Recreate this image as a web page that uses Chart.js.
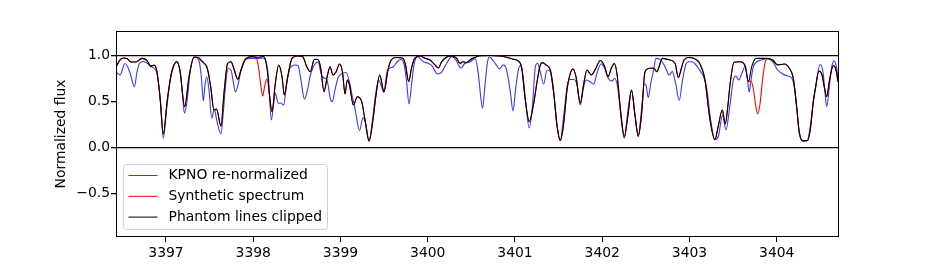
<!DOCTYPE html>
<html><head><meta charset="utf-8">
<script src="https://cdn.jsdelivr.net/npm/chart.js@4/dist/chart.umd.min.js"></script>
<style>html,body{margin:0;padding:0;background:#fff}#c{display:block}</style>
</head><body>
<canvas id="c" width="932" height="266"></canvas>
<script>
// ---- data ----
const seriesLabels = ['KPNO re-normalized', 'Synthetic spectrum', 'Phantom lines clipped'];
const xTicks = [3397, 3398, 3399, 3400, 3401, 3402, 3403, 3404];
const yTicks = [-0.5, 0, 0.5, 1];
const xRange = [3396.427, 3404.702];
const yRange = [-0.975, 1.264];
const yTitle = 'Normalized flux';

const kpnoWave = [3396.427,3396.473,3396.530,3396.576,3396.605,3396.637,3396.668,3396.696,3396.740,3396.786,
3396.825,3396.854,3396.900,3396.939,3396.969,3397.006,3397.040,3397.069,3397.123,3397.166,
3397.189,3397.212,3397.246,3397.275,3397.324,3397.378,3397.405,3397.428,3397.447,3397.466,
3397.493,3397.524,3397.554,3397.581,3397.630,3397.659,3397.676,3397.711,3397.745,3397.768,
3397.797,3397.825,3397.860,3397.900,3397.963,3398.051,3398.108,3398.140,3398.172,3398.207,
3398.232,3398.253,3398.287,3398.318,3398.349,3398.381,3398.421,3398.479,3398.513,3398.547,
3398.587,3398.622,3398.650,3398.688,3398.742,3398.782,3398.819,3398.845,3398.885,3398.906,
3398.937,3398.971,3399.009,3399.063,3399.103,3399.132,3399.166,3399.218,3399.258,3399.292,
3399.327,3399.367,3399.401,3399.438,3399.464,3399.496,3399.533,3399.562,3399.602,3399.651,
3399.693,3399.728,3399.756,3399.785,3399.814,3399.842,3399.883,3399.949,3400.006,3400.049,
3400.083,3400.109,3400.160,3400.217,3400.274,3400.324,3400.352,3400.381,3400.427,3400.484,
3400.542,3400.579,3400.605,3400.628,3400.656,3400.685,3400.708,3400.759,3400.794,3400.820,
3400.866,3400.897,3400.926,3400.951,3400.977,3401.006,3401.034,3401.057,3401.086,3401.120,
3401.164,3401.201,3401.233,3401.260,3401.290,3401.329,3401.367,3401.405,3401.441,3401.481,
3401.519,3401.556,3401.604,3401.634,3401.673,3401.711,3401.748,3401.785,3401.814,3401.863,
3401.902,3401.940,3401.986,3402.026,3402.074,3402.112,3402.143,3402.181,3402.218,3402.252,
3402.295,3402.335,3402.375,3402.412,3402.450,3402.484,3402.501,3402.527,3402.559,3402.585,
3402.616,3402.662,3402.696,3402.731,3402.765,3402.803,3402.840,3402.882,3402.920,3402.960,
3402.989,3403.034,3403.074,3403.128,3403.166,3403.201,3403.235,3403.292,3403.332,3403.378,
3403.418,3403.464,3403.502,3403.533,3403.564,3403.602,3403.640,3403.665,3403.684,3403.705,
3403.731,3403.762,3403.819,3403.896,3403.953,3404.011,3404.068,3404.125,3404.171,3404.203,
3404.232,3404.261,3404.307,3404.350,3404.387,3404.421,3404.453,3404.496,3404.530,3404.553,
3404.572,3404.605,3404.628,3404.654,3404.679,3404.702];
const kpnoFlux = [0.822,0.786,0.911,0.840,0.753,0.655,0.818,0.913,0.933,0.913,
0.876,0.865,0.786,0.478,0.098,0.405,0.677,0.818,0.933,0.786,
0.568,0.370,0.536,0.808,0.981,0.941,0.767,0.503,0.677,0.764,
0.623,0.318,0.416,0.297,0.145,0.405,0.601,0.857,0.840,0.731,
0.601,0.677,0.840,0.941,0.965,0.965,0.971,0.949,0.786,0.297,
0.460,0.587,0.478,0.481,0.460,0.677,0.859,0.895,0.889,0.731,
0.522,0.623,0.764,0.873,0.927,0.786,0.750,0.731,0.525,0.496,
0.623,0.753,0.797,0.813,0.710,0.568,0.424,0.182,0.324,0.242,
0.068,0.297,0.568,0.731,0.677,0.596,0.818,0.859,0.873,0.930,
0.954,0.905,0.731,0.471,0.677,0.895,0.985,0.930,0.913,0.884,
0.829,0.797,0.818,0.913,0.985,0.949,0.895,0.859,0.913,0.927,
0.967,0.804,0.568,0.424,0.677,0.927,0.981,0.930,0.884,0.851,
0.895,0.862,0.731,0.568,0.394,0.623,0.818,0.889,0.818,0.514,
0.210,0.460,0.873,0.913,0.818,0.688,0.840,0.822,0.623,0.242,
0.071,0.329,0.696,0.737,0.737,0.677,0.460,0.645,0.731,0.710,
0.688,0.808,0.905,0.862,0.742,0.721,0.750,0.623,0.297,0.098,
0.405,0.623,0.351,0.117,0.405,0.688,0.677,0.541,0.710,0.822,
0.967,0.954,0.916,0.851,0.786,0.822,0.699,0.509,0.731,0.905,
0.930,0.930,0.895,0.822,0.759,0.623,0.351,0.085,0.123,0.351,
0.188,0.460,0.731,0.775,0.731,0.808,0.884,0.731,0.601,0.731,
0.873,0.922,0.949,0.967,0.930,0.840,0.797,0.775,0.753,0.645,
0.405,0.134,0.066,0.074,0.242,0.514,0.696,0.900,0.818,0.601,
0.441,0.677,0.862,0.940,0.895,0.753];

const synthWave = [3396.427,3396.473,3396.513,3396.553,3396.599,3396.656,3396.725,3396.782,3396.825,3396.862,
3396.893,3396.931,3396.969,3397.015,3397.061,3397.123,3397.160,3397.214,3397.264,3397.321,
3397.359,3397.416,3397.473,3397.512,3397.550,3397.579,3397.630,3397.668,3397.707,3397.745,
3397.783,3397.822,3397.860,3397.917,3397.994,3398.032,3398.062,3398.085,3398.108,3398.131,3398.158,
3398.186,3398.215,3398.253,3398.292,3398.330,3398.356,3398.395,3398.444,3398.509,3398.567,
3398.613,3398.654,3398.700,3398.742,3398.773,3398.811,3398.849,3398.880,3398.914,3398.948,
3398.989,3399.023,3399.052,3399.078,3399.103,3399.147,3399.193,3399.243,3399.281,3399.327,
3399.372,3399.407,3399.449,3399.499,3399.544,3399.582,3399.636,3399.716,3399.745,3399.782,
3399.814,3399.850,3399.911,3399.968,3400.026,3400.083,3400.121,3400.160,3400.217,3400.274,
3400.332,3400.370,3400.407,3400.446,3400.484,3400.542,3400.599,3400.713,3400.828,3400.905,
3400.981,3401.038,3401.077,3401.118,3401.164,3401.214,3401.256,3401.290,3401.317,3401.355,
3401.405,3401.444,3401.481,3401.519,3401.556,3401.596,3401.634,3401.665,3401.699,3401.748,
3401.785,3401.825,3401.874,3401.917,3401.978,3402.028,3402.066,3402.104,3402.138,3402.169,
3402.207,3402.253,3402.295,3402.335,3402.375,3402.413,3402.450,3402.490,3402.547,3402.593,
3402.624,3402.691,3402.754,3402.834,3402.872,3402.908,3402.937,3402.989,3403.052,3403.124,
3403.178,3403.206,3403.235,3403.290,3403.332,3403.376,3403.410,3403.441,3403.464,3403.510,
3403.579,3403.636,3403.676,3403.705,3403.734,3403.756,3403.782,3403.808,3403.837,3403.865,3403.900,
3403.953,3404.011,3404.087,3404.144,3404.190,3404.226,3404.258,3404.297,3404.355,3404.387,
3404.419,3404.444,3404.482,3404.519,3404.547,3404.572,3404.605,3404.648,3404.679,3404.702];
const synthFlux = [0.873,0.949,0.971,0.965,0.927,0.927,0.967,0.943,0.884,0.891,
0.840,0.550,0.145,0.514,0.804,0.930,0.840,0.441,0.767,0.978,
0.978,0.930,0.859,0.659,0.405,0.416,0.231,0.623,0.913,0.930,
0.840,0.739,0.840,0.967,0.985,0.978,0.862,0.688,0.557,0.666,0.742,
0.568,0.387,0.696,0.895,0.767,0.568,0.767,0.967,0.992,0.985,
0.876,0.822,0.956,0.954,0.862,0.605,0.775,0.876,0.786,0.818,
0.905,0.818,0.579,0.731,0.677,0.460,0.550,0.496,0.297,0.068,
0.297,0.568,0.786,0.605,0.840,0.949,0.976,0.967,0.895,0.715,
0.862,0.967,0.992,0.967,0.949,0.895,0.862,0.930,0.981,0.992,
0.967,0.913,0.930,0.920,0.949,0.978,0.996,0.998,0.992,0.978,
0.956,0.938,0.862,0.514,0.278,0.478,0.731,0.895,0.920,0.895,
0.840,0.587,0.242,0.074,0.242,0.623,0.804,0.851,0.767,0.478,
0.677,0.840,0.786,0.840,0.943,0.876,0.767,0.859,0.911,0.797,
0.427,0.115,0.351,0.623,0.351,0.123,0.351,0.822,0.859,0.859,
0.822,0.967,0.954,0.913,0.759,0.862,0.949,0.976,0.965,0.900,
0.731,0.514,0.297,0.082,0.242,0.405,0.253,0.460,0.677,0.924,
0.930,0.889,0.715,0.721,0.623,0.471,0.362,0.471,0.731,0.916,0.965,
0.949,0.895,0.905,0.859,0.750,0.460,0.166,0.072,0.074,0.210,
0.496,0.645,0.829,0.786,0.645,0.550,0.731,0.889,0.840,0.710];

const clipWave = [3396.427,3396.473,3396.513,3396.553,3396.599,3396.656,3396.725,3396.782,3396.825,3396.862,
3396.893,3396.931,3396.969,3397.015,3397.061,3397.123,3397.160,3397.214,3397.264,3397.321,
3397.359,3397.416,3397.473,3397.512,3397.550,3397.579,3397.630,3397.668,3397.707,3397.745,
3397.783,3397.822,3397.860,3397.917,3397.994,3398.032,3398.069,3398.117,3398.140,3398.166,
3398.186,3398.215,3398.253,3398.292,3398.330,3398.356,3398.395,3398.444,3398.509,3398.567,
3398.613,3398.654,3398.700,3398.742,3398.773,3398.811,3398.849,3398.880,3398.914,3398.948,
3398.989,3399.023,3399.052,3399.078,3399.103,3399.147,3399.193,3399.243,3399.281,3399.327,
3399.372,3399.407,3399.449,3399.499,3399.544,3399.582,3399.636,3399.716,3399.745,3399.782,
3399.814,3399.850,3399.911,3399.968,3400.026,3400.083,3400.121,3400.160,3400.217,3400.274,
3400.332,3400.370,3400.407,3400.446,3400.484,3400.542,3400.599,3400.713,3400.828,3400.905,
3400.981,3401.038,3401.077,3401.118,3401.164,3401.214,3401.256,3401.290,3401.317,3401.355,
3401.405,3401.444,3401.481,3401.519,3401.556,3401.596,3401.634,3401.665,3401.699,3401.748,
3401.785,3401.825,3401.874,3401.917,3401.978,3402.028,3402.066,3402.104,3402.138,3402.169,
3402.207,3402.253,3402.295,3402.335,3402.375,3402.413,3402.450,3402.490,3402.547,3402.593,
3402.624,3402.691,3402.754,3402.834,3402.872,3402.908,3402.937,3402.989,3403.052,3403.124,
3403.178,3403.206,3403.235,3403.290,3403.332,3403.376,3403.410,3403.441,3403.464,3403.510,
3403.579,3403.636,3403.676,3403.713,3403.762,3403.877,3403.953,3404.011,3404.087,3404.144,
3404.190,3404.226,3404.258,3404.297,3404.355,3404.387,3404.419,3404.444,3404.482,3404.519,
3404.547,3404.572,3404.605,3404.648,3404.679,3404.702];
const clipFlux = [0.873,0.949,0.971,0.965,0.927,0.927,0.967,0.943,0.884,0.891,
0.840,0.550,0.145,0.514,0.804,0.930,0.840,0.441,0.767,0.978,
0.978,0.930,0.859,0.659,0.405,0.416,0.231,0.623,0.913,0.930,
0.840,0.739,0.840,0.967,0.985,0.978,0.978,0.987,0.949,0.786,
0.568,0.387,0.696,0.895,0.767,0.568,0.767,0.967,0.992,0.985,
0.876,0.822,0.956,0.954,0.862,0.605,0.775,0.876,0.786,0.818,
0.905,0.818,0.579,0.731,0.677,0.460,0.550,0.496,0.297,0.068,
0.297,0.568,0.786,0.605,0.840,0.949,0.976,0.967,0.895,0.715,
0.862,0.967,0.992,0.967,0.949,0.895,0.862,0.930,0.981,0.992,
0.967,0.913,0.930,0.920,0.949,0.978,0.996,0.998,0.992,0.978,
0.956,0.938,0.862,0.514,0.278,0.478,0.731,0.895,0.920,0.895,
0.840,0.587,0.242,0.074,0.242,0.623,0.804,0.851,0.767,0.478,
0.677,0.840,0.786,0.840,0.943,0.876,0.767,0.859,0.911,0.797,
0.427,0.115,0.351,0.623,0.351,0.123,0.351,0.822,0.859,0.859,
0.822,0.967,0.954,0.913,0.759,0.862,0.949,0.976,0.965,0.900,
0.731,0.514,0.297,0.082,0.242,0.405,0.253,0.460,0.677,0.924,
0.930,0.889,0.715,0.876,0.967,0.967,0.949,0.895,0.905,0.859,
0.750,0.460,0.166,0.072,0.074,0.210,0.496,0.645,0.829,0.786,
0.645,0.550,0.731,0.889,0.840,0.710];

// ---- chart ----
const FONT = 'DejaVu Sans';
const FSIZE = 13.9;
const pts = (xs, ys) => xs.map((x, i) => ({x: x, y: ys[i]}));
const seriesColors = ['rgba(20,20,255,0.85)', '#ff0000', '#000000'];

const frame = {
  id: 'frame',
  afterDatasetsDraw(chart) {
    const a = chart.chartArea, c = chart.ctx;
    c.save();
    c.strokeStyle = '#000'; c.lineWidth = 1;
    c.strokeRect(a.left + 0.5, a.top + 0.5, a.right - a.left, a.bottom - a.top - 1);
    c.restore();
  }
};
const boxLegend = {
  id: 'boxLegend',
  afterDraw(chart) {
    const c = chart.ctx;
    const bx = 123.5, by = 164.5, bw = 204, bh = 65, r = 3;
    c.save();
    c.beginPath();
    c.moveTo(bx + r, by); c.lineTo(bx + bw - r, by); c.arcTo(bx + bw, by, bx + bw, by + r, r);
    c.lineTo(bx + bw, by + bh - r); c.arcTo(bx + bw, by + bh, bx + bw - r, by + bh, r);
    c.lineTo(bx + r, by + bh); c.arcTo(bx, by + bh, bx, by + bh - r, r);
    c.lineTo(bx, by + r); c.arcTo(bx, by, bx + r, by, r); c.closePath();
    c.fillStyle = 'rgba(255,255,255,0.8)'; c.fill();
    c.strokeStyle = '#d0d0d0'; c.lineWidth = 1; c.stroke();
    c.font = FSIZE + 'px "' + FONT + '"'; c.textBaseline = 'middle'; c.textAlign = 'left';
    chart.data.datasets.forEach((ds, i) => {
      const y = 175.5 + i * 20.8;
      c.beginPath(); c.moveTo(128.5, y); c.lineTo(157.5, y);
      c.strokeStyle = ds.borderColor; c.lineWidth = 1; c.stroke();
      c.fillStyle = '#000'; c.fillText(ds.label, 168.5, y);
    });
    c.restore();
  }
};

new Chart(document.getElementById('c'), {
  type: 'line',
  data: {
    datasets: [
      {label: seriesLabels[0], data: pts(kpnoWave, kpnoFlux), borderColor: seriesColors[0], order: 3},
      {label: seriesLabels[1], data: pts(synthWave, synthFlux), borderColor: seriesColors[1], order: 2},
      {label: seriesLabels[2], data: pts(clipWave, clipFlux), borderColor: seriesColors[2], order: 1}
    ]
  },
  options: {
    responsive: false, animation: false, devicePixelRatio: 1,
    layout: {padding: {left: 0, right: 94, top: 31, bottom: 0}, autoPadding: false},
    elements: {
      point: {radius: 0, hoverRadius: 0},
      line: {borderWidth: 1.1, cubicInterpolationMode: 'monotone', fill: false}
    },
    plugins: {legend: {display: false}, tooltip: {enabled: false}},
    events: [],
    scales: {
      x: {
        type: 'linear', min: xRange[0], max: xRange[1],
        afterBuildTicks: s => { s.ticks = xTicks.map(v => ({value: v})); },
        afterFit: s => { s.height = 29; },
        border: {display: false},
        grid: {drawOnChartArea: false, drawTicks: true, tickLength: 5, color: '#000', tickColor: '#000'},
        ticks: {color: '#000', padding: 3, maxRotation: 0, autoSkip: false,
          font: {family: FONT, size: FSIZE}, callback: v => String(v)}
      },
      y: {
        type: 'linear', min: yRange[0], max: yRange[1],
        afterBuildTicks: s => { s.ticks = yTicks.map(v => ({value: v})); },
        afterFit: s => { s.width = 116; },
        border: {display: false},
        grid: {drawOnChartArea: true, drawTicks: true, tickLength: 5, lineWidth: 1.3,
          color: ctx => (ctx.tick && (ctx.tick.value === 0 || ctx.tick.value === 1)) ? '#000' : 'rgba(0,0,0,0)',
          tickColor: '#000'},
        ticks: {color: '#000', padding: 1, autoSkip: false, font: {family: FONT, size: FSIZE},
          callback: v => (v < 0 ? '\u2212' : '') + Math.abs(v).toFixed(1)},
        title: {display: true, text: yTitle, color: '#000', font: {family: FONT, size: FSIZE},
          padding: {top: 53.5, bottom: 0}}
      }
    }
  },
  plugins: [frame, boxLegend]
});
</script>
</body></html>
